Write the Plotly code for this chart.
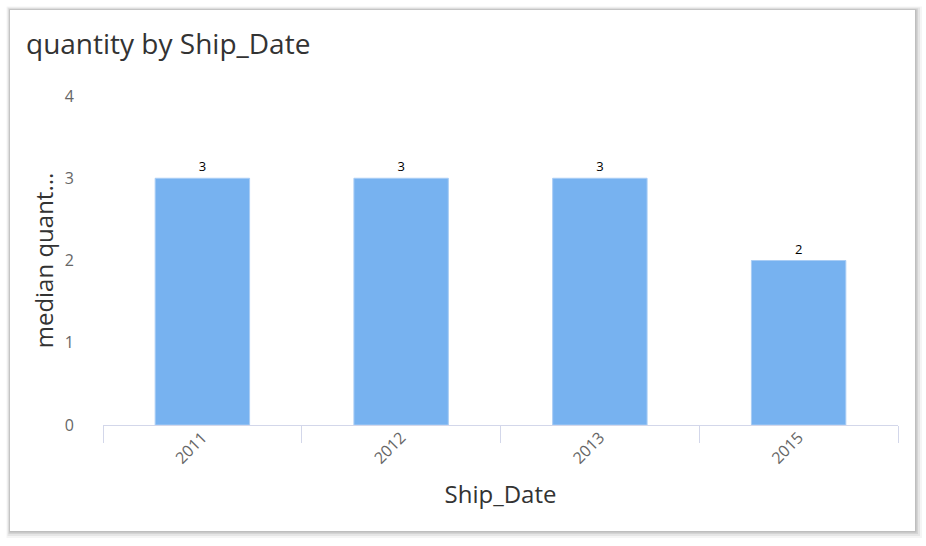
import plotly.graph_objects as go

categories = ["2011", "2012", "2013", "2015"]
values = [3, 3, 3, 2]
y_ticks = [0, 1, 2, 3, 4]

W, H = 926, 546
L, R, T, B = 103, 28, 96, 121
pw, ph = W - L - R, H - T - B

def px(x):
    return (x - L) / pw

def py(y):
    return (H - B - y) / ph

fig = go.Figure()
fig.add_trace(go.Bar(
    x=categories, y=values,
    width=0.475,
    marker=dict(color="#77b2f0", line=dict(color="#a9cdf5", width=1)),
    text=[str(v) for v in values],
    textposition="outside",
    textfont=dict(color="#000000", size=13, family="Open Sans"),
    cliponaxis=False,
))

shapes = []
# shadow layers
for off, op in [(7, 0.04), (5, 0.06), (3, 0.08), (1.5, 0.10)]:
    shapes.append(dict(type="rect", xref="paper", yref="paper", layer="below",
                       x0=px(10 - off / 2), x1=px(915 + off), y0=py(531 + off), y1=py(10 - off / 2),
                       fillcolor=f"rgba(0,0,0,{op})", line=dict(width=0)))
shapes.append(dict(type="rect", xref="paper", yref="paper", layer="below",
                   x0=px(10), x1=px(915), y0=py(531), y1=py(10),
                   fillcolor="#ffffff", line=dict(width=0)))

fig.update_layout(
    width=W, height=H,
    margin=dict(l=L, r=R, t=T, b=B),
    paper_bgcolor="#ffffff",
    plot_bgcolor="rgba(0,0,0,0)",
    shapes=shapes,
    showlegend=False,
    font=dict(family="Open Sans", color="#666666"),
    title=dict(text="quantity by Ship_Date", x=26 / W, xanchor="left",
               y=1 - 44 / H, yanchor="middle",
               font=dict(size=28, color="#333333", family="Open Sans")),
    xaxis=dict(
        type="category",
        tickson="boundaries",
        ticks="outside", ticklen=17, tickcolor="#d3d7ea", tickwidth=1,
        showline=True, linecolor="#d3d7ea", linewidth=1,
        showgrid=False,
        tickangle=-45,
        ticklabelstandoff=-4,
        tickfont=dict(size=16, color="#666666"),
        title=dict(text="Ship_Date", font=dict(size=24, color="#333333"), standoff=18),
        automargin=False,
    ),
    yaxis=dict(
        range=[0, 4],
        tickvals=y_ticks,
        showgrid=False, zeroline=False, showline=False,
        ticks="", ticklabelstandoff=28,
        tickfont=dict(size=16, color="#666666"),
        title=dict(text="median quant...", font=dict(size=24, color="#333333"), standoff=4),
        automargin=False,
    ),
)

fig.write_html("out.html", config={"displayModeBar": False},
               post_script="document.body.style.margin='0';")
